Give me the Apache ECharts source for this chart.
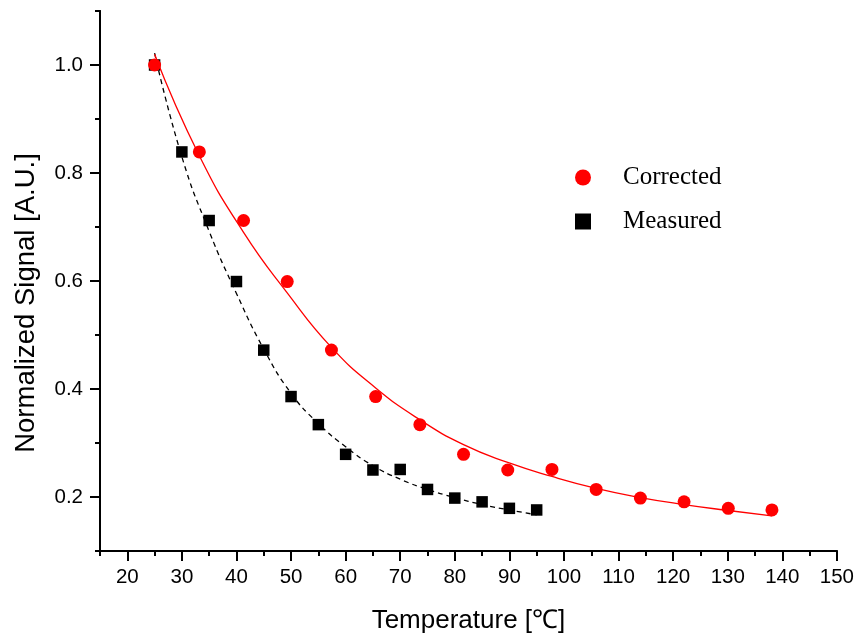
<!DOCTYPE html>
<html>
<head>
<meta charset="utf-8">
<script src="https://cdn.jsdelivr.net/npm/echarts@6/dist/echarts.min.js"></script>
<style>
  html, body { margin: 0; padding: 0; background: #fff; }
  #chart { width: 857px; height: 639px; }
</style>
</head>
<body>
<div id="chart"></div>
<script>
// Normalized signal (same for both series)
const signal = [1.0, 0.839, 0.712, 0.599, 0.472, 0.386, 0.334, 0.279, 0.25, 0.251, 0.214, 0.198, 0.191, 0.179, 0.176];
// Raw temperature readings
const measuredTemp = [25, 30, 35, 40, 45, 50, 55, 60, 65, 70, 75, 80, 85, 90, 95];
// Temperatures after correction
const correctedTemp = [25, 33.2, 41.3, 49.3, 57.4, 65.5, 73.6, 81.6, 89.7, 97.8, 105.9, 114, 122, 130.1, 138.1];

// Exponential-decay fit curves (sampled)
const measuredFitX = [25, 30, 35, 40, 45, 50, 55, 60, 65, 70, 75, 80, 85, 90, 95];
const measuredFitY = [1.022, 0.83, 0.692, 0.577, 0.474, 0.392, 0.336, 0.293, 0.258, 0.233, 0.214, 0.199, 0.186, 0.176, 0.167];
const correctedFitX = [25, 33.2, 41.3, 49.3, 57.4, 65.5, 73.6, 81.6, 89.7, 97.8, 105.9, 114, 122, 130.1, 138.1];
const correctedFitY = [1.02, 0.832, 0.69, 0.578, 0.477, 0.402, 0.343, 0.297, 0.264, 0.238, 0.216, 0.199, 0.186, 0.175, 0.165];

// Axis ticks
const xMajor = [20, 30, 40, 50, 60, 70, 80, 90, 100, 110, 120, 130, 140, 150];
const xMinor = [15, 25, 35, 45, 55, 65, 75, 85, 95, 105, 115, 125, 135, 145];
const yMajor = [0.2, 0.4, 0.6, 0.8, 1.0];
const yMinor = [0.1, 0.3, 0.5, 0.7, 0.9, 1.1];

const zip = (xs, ys) => xs.map((x, i) => [x, ys[i]]);

const sans = 'Liberation Sans, Arial, sans-serif';
const serif = 'Liberation Serif, Times New Roman, serif';
const axisLineStyle = { color: '#000', width: 2 };

function xAxisDef(major) {
  return {
    type: 'value', min: 15, max: 150, position: 'bottom', offset: 0,
    splitLine: { show: false },
    axisLine: { show: true, onZero: false, lineStyle: axisLineStyle },
    axisTick: { show: true, inside: false, length: major ? 10 : 5,
      customValues: major ? xMajor : xMinor, lineStyle: { color: '#000', width: 2 } },
    axisLabel: major
      ? { show: true, customValues: xMajor, margin: 16, fontSize: 20.5, fontFamily: sans, color: '#000' }
      : { show: false },
    name: major ? 'Temperature [\u2103]' : '',
    nameLocation: 'middle', nameGap: 57,
    nameTextStyle: { fontSize: 26, fontFamily: sans, color: '#000' }
  };
}

function yAxisDef(major) {
  return {
    type: 'value', min: 0.1, max: 1.1, position: 'left', offset: 0,
    splitLine: { show: false },
    axisLine: { show: true, onZero: false, lineStyle: axisLineStyle },
    axisTick: { show: true, inside: false, length: major ? 10 : 5,
      customValues: major ? yMajor : yMinor, lineStyle: { color: '#000', width: 2 } },
    axisLabel: major
      ? { show: true, customValues: yMajor, margin: 17, fontSize: 20.5, fontFamily: sans, color: '#000',
          formatter: v => v.toFixed(1) }
      : { show: false },
    name: major ? 'Normalized Signal [A.U.]' : '',
    nameLocation: 'middle', nameGap: 60,
    nameTextStyle: { fontSize: 27.5, fontFamily: sans, color: '#000', padding: [0, 44, 0, 0] }
  };
}

const chart = echarts.init(document.getElementById('chart'), null, { renderer: 'canvas' });
chart.setOption({
  backgroundColor: '#fff',
  animation: false,
  grid: { left: 100, right: 20, top: 11, bottom: 87, containLabel: false },
  xAxis: [xAxisDef(true), xAxisDef(false)],
  yAxis: [yAxisDef(true), yAxisDef(false)],
  legend: {
    orient: 'vertical', left: 570, top: 160,
    itemWidth: 70, itemHeight: 16, itemGap: 19,
    textStyle: { fontFamily: serif, fontSize: 25, color: '#000' },
    data: [
      { name: 'Corrected', icon: 'circle' },
      { name: 'Measured', icon: 'path://M0,0L14,0L14,14L0,14Z', itemStyle: { color: '#000' } }
    ]
  },
  series: [
    {
      name: 'Measured fit', type: 'line', smooth: true, showSymbol: false,
      data: zip(measuredFitX, measuredFitY),
      lineStyle: { color: '#000', width: 1.3, type: [5, 4] }, z: 2
    },
    {
      name: 'Measured', type: 'scatter', symbol: 'rect', symbolSize: 11.5,
      data: zip(measuredTemp, signal),
      itemStyle: { color: '#000', opacity: 1 }, z: 3
    },
    {
      name: 'Corrected fit', type: 'line', smooth: true, showSymbol: false,
      data: zip(correctedFitX, correctedFitY),
      lineStyle: { color: '#ff0000', width: 1.3 }, z: 4
    },
    {
      name: 'Corrected', type: 'scatter', symbol: 'circle', symbolSize: 13,
      data: zip(correctedTemp, signal),
      itemStyle: { color: '#ff0000', opacity: 1 }, z: 5
    }
  ]
});
</script>
</body>
</html>
